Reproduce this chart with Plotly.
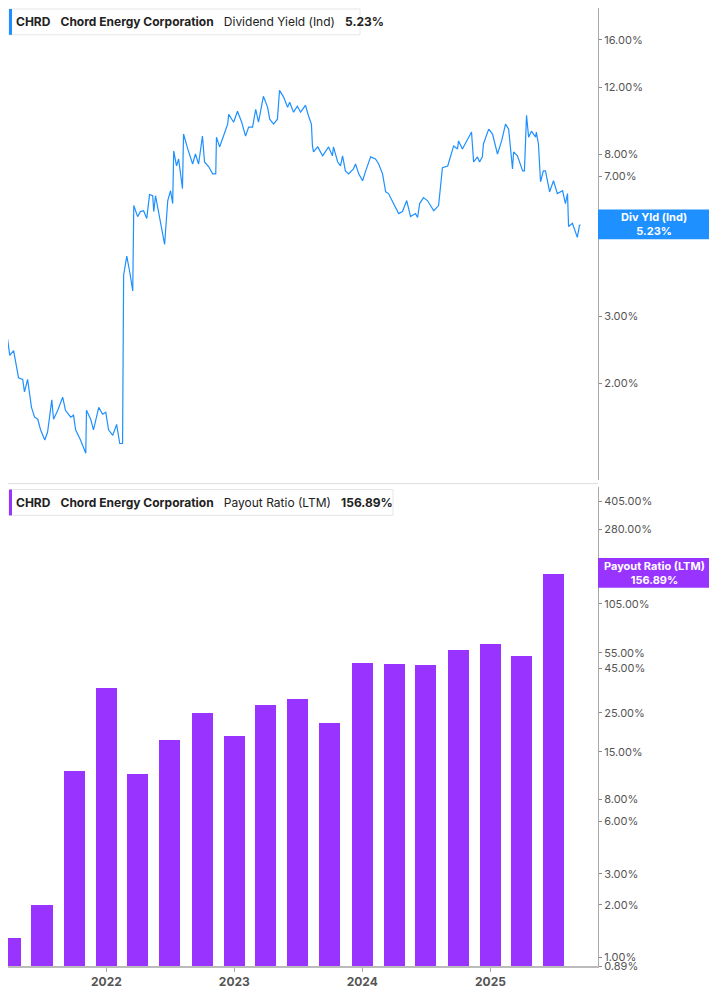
import plotly.graph_objects as go

# Dividend yield (Ind), %
yld_dates = [
    "2021-03-05", "2021-03-19", "2021-03-25", "2021-03-31", "2021-04-11", "2021-04-20", "2021-04-25",
    "2021-05-07", "2021-05-12", "2021-05-21", "2021-06-01", "2021-06-10", "2021-06-19", "2021-06-27",
    "2021-07-09", "2021-07-17", "2021-07-29", "2021-08-03", "2021-08-15", "2021-08-29", "2021-09-06",
    "2021-09-21", "2021-09-29", "2021-10-05", "2021-10-19", "2021-11-03", "2021-11-05", "2021-11-17",
    "2021-11-25", "2021-12-10", "2021-12-21", "2021-12-30", "2022-01-07", "2022-01-19", "2022-01-30",
    "2022-02-08", "2022-02-16", "2022-02-19", "2022-02-28", "2022-03-08", "2022-03-17", "2022-03-20",
    "2022-03-31", "2022-04-08", "2022-04-17", "2022-04-26", "2022-05-04", "2022-05-13", "2022-05-16",
    "2022-05-21", "2022-05-30", "2022-06-07", "2022-06-16", "2022-06-25", "2022-07-03", "2022-07-09",
    "2022-07-12", "2022-07-20", "2022-07-26", "2022-08-06", "2022-08-09", "2022-08-21", "2022-09-04",
    "2022-09-12", "2022-09-21", "2022-10-02", "2022-10-08", "2022-10-20", "2022-10-31", "2022-11-09",
    "2022-11-11", "2022-11-20", "2022-12-01", "2022-12-13", "2022-12-16", "2022-12-30", "2023-01-10",
    "2023-01-22", "2023-02-02", "2023-02-11", "2023-02-22", "2023-03-03", "2023-03-11", "2023-03-25",
    "2023-04-06", "2023-04-12", "2023-04-23", "2023-05-04", "2023-05-10", "2023-05-22", "2023-06-02",
    "2023-06-08", "2023-06-19", "2023-06-30", "2023-07-09", "2023-07-23", "2023-08-01", "2023-08-09",
    "2023-08-12", "2023-08-15", "2023-08-27", "2023-09-10", "2023-09-27", "2023-10-08", "2023-10-11",
    "2023-10-23", "2023-10-31", "2023-11-06", "2023-11-14", "2023-11-23", "2023-12-07", "2023-12-13",
    "2023-12-22", "2024-01-02", "2024-01-11", "2024-01-25", "2024-02-08", "2024-02-17", "2024-02-28",
    "2024-03-08", "2024-03-16", "2024-03-30", "2024-04-14", "2024-04-25", "2024-05-07", "2024-05-18",
    "2024-06-01", "2024-06-07", "2024-06-13", "2024-06-24", "2024-07-05", "2024-07-14", "2024-07-23",
    "2024-08-06", "2024-08-12", "2024-08-17", "2024-09-01", "2024-09-09", "2024-09-18", "2024-09-29",
    "2024-10-02", "2024-10-13", "2024-10-28", "2024-11-08", "2024-11-14", "2024-11-25", "2024-12-01",
    "2024-12-09", "2024-12-12", "2024-12-27", "2025-01-07", "2025-01-13", "2025-01-21", "2025-02-02",
    "2025-02-13", "2025-02-22", "2025-03-05", "2025-03-08", "2025-03-19", "2025-04-03", "2025-04-08",
    "2025-04-14", "2025-04-20", "2025-04-28", "2025-05-10", "2025-05-12", "2025-05-18", "2025-05-24",
    "2025-06-01", "2025-06-07", "2025-06-19", "2025-06-30", "2025-07-11", "2025-07-26", "2025-08-03",
    "2025-08-09", "2025-08-12", "2025-08-23", "2025-09-01", "2025-09-06", "2025-09-12", "2025-09-15",
]
yld_values = [
    2.64, 2.53, 2.61, 2.37, 2.44, 2.16, 2.07,
    2.05, 1.90, 2.05, 1.73, 1.63, 1.61, 1.51,
    1.42, 1.49, 1.81, 1.61, 1.70, 1.84, 1.70,
    1.63, 1.65, 1.51, 1.42, 1.31, 1.70, 1.61,
    1.51, 1.73, 1.66, 1.68, 1.51, 1.46, 1.56,
    1.39, 1.39, 3.85, 4.32, 3.95, 3.50, 5.87,
    5.49, 5.66, 5.69, 5.43, 6.27, 6.23, 5.66,
    6.23, 5.66, 5.11, 4.64, 6.05, 6.42, 5.94,
    8.17, 7.46, 7.78, 6.50, 9.05, 8.27, 7.55,
    8.02, 7.55, 8.94, 7.64, 7.42, 7.11, 7.11,
    8.88, 8.37, 8.94, 9.61, 10.20, 9.72, 10.39,
    9.72, 8.94, 9.44, 9.44, 10.51, 9.72, 11.37,
    10.64, 9.90, 9.61, 9.90, 11.79, 11.30, 10.64,
    10.97, 10.33, 10.71, 10.33, 10.77, 10.08, 9.61,
    8.42, 8.12, 8.37, 7.93, 8.37, 7.93, 8.37,
    7.64, 7.46, 7.93, 7.24, 7.11, 7.33, 7.55,
    7.11, 6.82, 7.24, 7.88, 7.78, 7.55, 7.11,
    6.38, 6.31, 5.94, 5.59, 5.66, 6.05, 5.49,
    5.59, 5.46, 5.94, 6.16, 6.05, 5.87, 5.69,
    5.87, 6.58, 7.38, 7.46, 7.88, 8.42, 8.27,
    8.68, 8.27, 8.78, 9.16, 7.64, 7.88, 7.64,
    7.88, 8.52, 9.32, 9.05, 8.52, 8.02, 8.68,
    9.61, 9.32, 7.33, 8.12, 7.93, 7.24, 7.24,
    10.14, 8.88, 9.21, 8.88, 9.16, 8.52, 6.78,
    7.24, 7.24, 6.38, 6.82, 6.31, 6.42, 5.94,
    6.31, 5.17, 5.27, 5.02, 4.84, 5.20, 5.23,
]

# Payout ratio (LTM), % — quarterly bars
pay_dates = [
    "2021-04-01", "2021-07-01", "2021-10-01", "2022-01-01", "2022-04-01", "2022-07-01",
    "2022-10-01", "2023-01-01", "2023-04-01", "2023-07-01", "2023-10-01", "2024-01-01",
    "2024-04-01", "2024-07-01", "2024-10-01", "2025-01-01", "2025-04-01", "2025-07-01",
]
pay_values = [
    1.29, 2.0, 11.7, 35.0, 11.3, 17.5,
    25.2, 18.5, 28.0, 30.3, 21.9, 48.5,
    48.0, 47.5, 57.5, 62.0, 53.0, 156.89,
]

yld_ticks = [2, 3, 5, 7, 8, 12, 16, 20]
pay_ticks = [0.89, 1, 2, 3, 6, 8, 15, 25, 45, 55, 105, 150, 280, 405]

BLUE = "#1e90ff"
PURPLE = "#9933ff"
FONT = "Inter, Roboto, sans-serif"
X_RANGE = ["2021-03-26", "2025-11-04"]

# page has an 8px body margin; work in page pixels and convert
W, H = 701, 989
def px(x):
    return (x - 8) / W

def py(y):
    return 1 - (y - 8) / H

fig = go.Figure()
fig.add_trace(go.Scatter(x=yld_dates, y=yld_values, mode="lines",
                         line=dict(color=BLUE, width=1.2), xaxis="x", yaxis="y",
                         showlegend=False, cliponaxis=True))
fig.add_trace(go.Bar(x=pay_dates, y=pay_values, marker_color=PURPLE, marker_line_width=0,
                     width=60 * 86400000, xaxis="x2", yaxis="y2", showlegend=False))

tickfont = dict(family=FONT, size=11, color="#555555")
fig.update_layout(
    width=W, height=H,
    margin=dict(l=0, r=0, t=0, b=0),
    plot_bgcolor="white", paper_bgcolor="white",
    font=dict(family=FONT),
    xaxis=dict(domain=[0, px(598)], range=X_RANGE, type="date", showticklabels=False,
               showgrid=False, zeroline=False, showline=False, anchor="y"),
    yaxis=dict(domain=[py(483), 1], type="log", range=[0.048, 1.288], side="right",
               tickvals=yld_ticks, ticktext=[f"{v:.2f}%" for v in yld_ticks],
               ticks="outside", ticklen=3, tickcolor="#888", tickfont=tickfont,
               showgrid=False, zeroline=False, showline=True, linecolor="#aaaaaa",
               anchor="x"),
    xaxis2=dict(domain=[0, px(598)], range=X_RANGE, type="date", anchor="y2",
                tickvals=["2022-01-01", "2023-01-01", "2024-01-01", "2025-01-01"],
                ticktext=["2022", "2023", "2024", "2025"],
                ticks="outside", ticklen=4, tickcolor="#aaaaaa",
                tickfont=dict(family=FONT, size=12, color="#555555", weight="bold"),
                showgrid=False, zeroline=False, showline=True, linecolor="#bbbbbb",
                linewidth=1.5),
    yaxis2=dict(domain=[py(973), py(490)], type="log", range=[-0.0506, 2.692], side="right",
                tickvals=pay_ticks, ticktext=[f"{v:.2f}%" for v in pay_ticks],
                ticks="outside", ticklen=3, tickcolor="#888", tickfont=tickfont,
                showgrid=False, zeroline=False, showline=True, linecolor="#aaaaaa",
                anchor="x2"),
    bargap=0,
)

# header boxes
def header(y_top, color, metric, value, right):
    fig.add_shape(type="rect", xref="paper", yref="paper", x0=px(9), x1=px(right),
                  y0=py(y_top + 26), y1=py(y_top),
                  line=dict(color="#e6e6e6", width=1), fillcolor="white", layer="above")
    fig.add_shape(type="rect", xref="paper", yref="paper", x0=px(9), x1=px(12),
                  y0=py(y_top + 26), y1=py(y_top),
                  line=dict(width=0), fillcolor=color, layer="above")
    fig.add_annotation(xref="paper", yref="paper", x=px(14), y=py(y_top + 13),
                       xanchor="left", yanchor="middle", showarrow=False,
                       font=dict(family=FONT, size=12, color="#222222"),
                       text=f"<b>CHRD</b>   <b>Chord Energy Corporation</b>   {metric}   <b>{value}</b>")

header(9, BLUE, "Dividend Yield (Ind)", "5.23%", 360)
header(493, PURPLE, "Payout Ratio (LTM)", "156.89%", 393)

# right-side value tags
def tag(y_mid, color, text, h):
    fig.add_shape(type="rect", xref="paper", yref="paper", x0=px(598), x1=1,
                  y0=py(y_mid + h / 2), y1=py(y_mid - h / 2),
                  line=dict(width=0), fillcolor=color, layer="above")
    fig.add_annotation(xref="paper", yref="paper", x=px(654), y=py(y_mid),
                       xanchor="center", yanchor="middle", showarrow=False,
                       font=dict(family=FONT, size=11, color="white", weight="bold"),
                       text=text)

tag(226, BLUE, "Div Yld (Ind)<br>5.23%", 30)
tag(577, PURPLE, "Payout Ratio (LTM)<br>156.89%", 30)

# separator between panels
fig.add_shape(type="line", xref="paper", yref="paper", x0=0, x1=px(598),
              y0=py(487), y1=py(487), line=dict(color="#dddddd", width=1))

fig.write_html("out.html")
